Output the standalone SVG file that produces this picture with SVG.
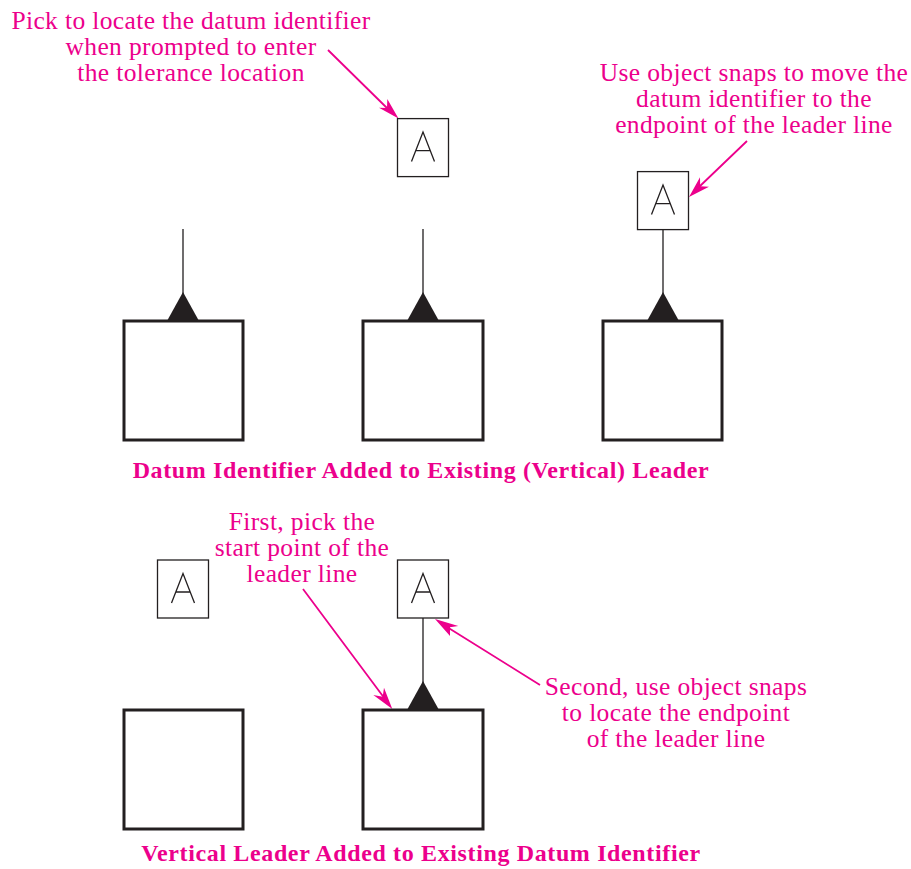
<svg xmlns="http://www.w3.org/2000/svg" width="911" height="869" viewBox="0 0 911 869">
<defs>
<style>
.t{font-family:"Liberation Serif","DejaVu Serif",serif;font-size:25.5px;letter-spacing:.37px;fill:#ec008c;text-anchor:middle}
.h{font-family:"Liberation Serif","DejaVu Serif",serif;font-size:24px;font-weight:bold;letter-spacing:.63px;fill:#ec008c;text-anchor:middle}
.sq{fill:#fff;stroke:#231f20;stroke-width:3}
.id{fill:#fff;stroke:#231f20;stroke-width:1.3}
.l{fill:none;stroke:#231f20;stroke-width:1.3}
.a{fill:none;stroke:#ec008c;stroke-width:1.8}
.p{fill:#ec008c}
.tri{fill:#231f20}
</style>
<g id="A"><rect class="id" x="-25.5" y="-29" width="51" height="58"/><path class="l" d="M-11.5 14L0-15.500L11.500 14M-7 3H7"/></g>
</defs>
<rect width="911" height="869" fill="#fff"/>
<g id="connectors">
<path class="l" d="M183 229V295M423 229V295M663 230V295M423 618V683"/>
<path class="a" d="M328 50L389 110M747 141L699 187M303 589L385 699M540 685L447 627"/>
<path class="p" d="M398.500 118.500L379 107.700L387 108L387.300 99ZM689 197L700 177.300L700.200 186.200L709 186.700ZM392.300 709L373.300 695L382.700 696.700L384 687.700ZM435 619L458.300 626L450 627.300L450 636Z"/>
</g>
<g id="block1"><rect class="sq" x="124" y="321" width="119" height="119"/><path class="tri" d="M167 321L183 292L199 321Z"/></g>
<g id="block2"><rect class="sq" x="363" y="321" width="120" height="119"/><path class="tri" d="M407 321L423 292L439 321Z"/></g>
<g id="block3"><rect class="sq" x="603" y="321" width="119" height="119"/><path class="tri" d="M647 321L663 292L679 321Z"/></g>
<g id="block4"><rect class="sq" x="124" y="710" width="119" height="119"/></g>
<g id="block5"><rect class="sq" x="363" y="710" width="120" height="119"/><path class="tri" d="M407 710L423 681L439 710Z"/></g>
<g id="id1"><use href="#A" x="423" y="147.600"/></g>
<g id="id2"><use href="#A" x="663" y="200.600"/></g>
<g id="id3"><use href="#A" x="183" y="589"/></g>
<g id="id4"><use href="#A" x="423" y="589"/></g>
<g id="note1"><text class="t"><tspan x="191" y="29">Pick to locate the datum identifier</tspan><tspan x="191" y="55">when prompted to enter</tspan><tspan x="191" y="81">the tolerance location</tspan></text></g>
<g id="note2"><text class="t"><tspan x="754" y="81">Use object snaps to move the</tspan><tspan x="754" y="107">datum identifier to the</tspan><tspan x="754" y="133">endpoint of the leader line</tspan></text></g>
<g id="note3"><text class="t"><tspan x="302" y="530">First, pick the</tspan><tspan x="302" y="556">start point of the</tspan><tspan x="302" y="582">leader line</tspan></text></g>
<g id="note4"><text class="t"><tspan x="676" y="695">Second, use object snaps</tspan><tspan x="676" y="721">to locate the endpoint</tspan><tspan x="676" y="747">of the leader line</tspan></text></g>
<text id="cap1" class="h" x="421" y="478">Datum Identifier Added to Existing (Vertical) Leader</text>
<text id="cap2" class="h" x="421" y="861">Vertical Leader Added to Existing Datum Identifier</text>
</svg>
